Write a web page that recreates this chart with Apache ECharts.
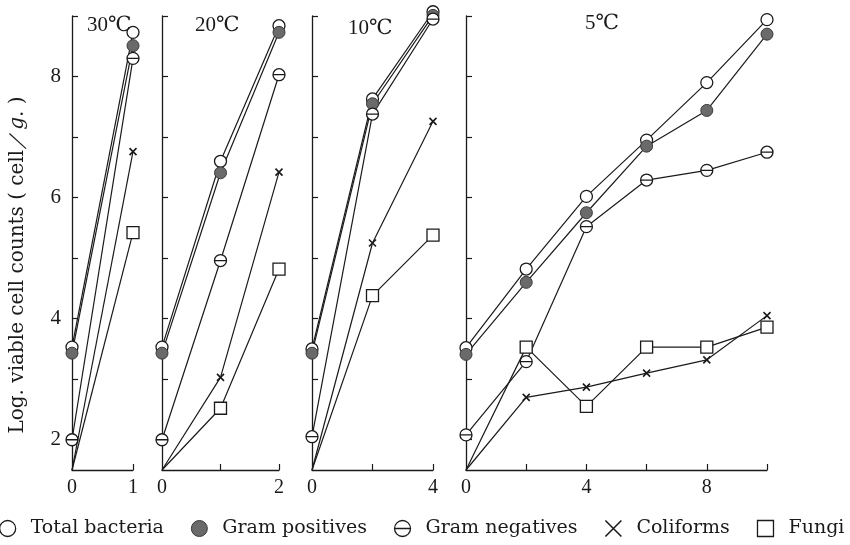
<!DOCTYPE html>
<html>
<head>
<meta charset="utf-8">
<script src="https://cdn.jsdelivr.net/npm/echarts@6/dist/echarts.min.js"></script>
<style>
  html, body { margin: 0; padding: 0; background: #fff; }
  #main { width: 850px; height: 545px; }
</style>
</head>
<body>
<div id="main"></div>
<script>
// panel data: days of storage and log counts per group
var days30 = [0, 1];
var total30 = [3.53, 8.73];
var gpos30 = [3.43, 8.51];
var gneg30 = [2.0, 8.30];
var coli30 = [1.5, 6.76];
var fungi30 = [1.5, 5.42];

var days20 = [0, 1, 2];
var total20 = [3.53, 6.60, 8.84];
var gpos20 = [3.43, 6.41, 8.73];
var gneg20 = [2.0, 4.96, 8.03];
var coli20 = [1.5, 3.03, 6.42];
var fungi20 = [1.5, 2.52, 4.82];

var days10 = [0, 2, 4];
var total10 = [3.50, 7.63, 9.07];
var gpos10 = [3.43, 7.55, 9.01];
var gneg10 = [2.05, 7.38, 8.95];
var coli10 = [1.5, 5.25, 7.26];
var fungi10 = [1.5, 4.38, 5.38];

var days5 = [0, 2, 4, 6, 8, 10];
var total5 = [3.52, 4.82, 6.02, 6.95, 7.90, 8.94];
var gpos5 = [3.41, 4.60, 5.75, 6.85, 7.44, 8.70];
var gneg5 = [2.08, 3.29, 5.52, 6.29, 6.45, 6.75];
var coli5 = [1.5, 2.70, 2.87, 3.10, 3.32, 4.05];
var fungi5 = [1.5, 3.53, 2.55, 3.53, 3.53, 3.86];

var panelTitles = ['30℃', '20℃', '10℃', '5℃'];
var panelMax = [1, 2, 4, 10];
var xTickValues = [[1], [1, 2], [2, 4], [2, 4, 6, 8, 10]];
var xLabelValues = [[0, 1], [0, 2], [0, 4], [0, 4, 8]];
var yTickValues = [2, 3, 4, 5, 6, 7, 8, 9];
var yLabelValues = [2, 4, 6, 8];
var groupNames = ['Total bacteria', 'Gram positives', 'Gram negatives', 'Coliforms', 'Fungi'];
var detectLimit = 1.5;   // below detection: plotted at axis floor without marker

var panels = [
    {days: days30, vals: [total30, gpos30, gneg30, coli30, fungi30]},
    {days: days20, vals: [total20, gpos20, gneg20, coli20, fungi20]},
    {days: days10, vals: [total10, gpos10, gneg10, coli10, fungi10]},
    {days: days5, vals: [total5, gpos5, gneg5, coli5, fungi5]}
];

var serif = '"Liberation Serif", "DejaVu Serif", "Noto Sans CJK JP", serif';
var wideSerif = '"DejaVu Serif", "Liberation Serif", serif';
var ink = '#1a1a1a';

var gnegPath = 'path://M0,10 A10,10 0 1,1 20,10 A10,10 0 1,1 0,10 Z M0,10 L20,10';
var crossPath = 'path://M0,0 L10,10 M10,0 L0,10';

var markers = [
    {symbol: 'circle', size: 12, item: {color: '#fff', borderColor: ink, borderWidth: 1.3}},
    {symbol: 'circle', size: 12, item: {color: '#6a6a6a', borderColor: '#3a3a3a', borderWidth: 1}},
    {symbol: gnegPath, size: 12, item: {color: '#fff', borderColor: ink, borderWidth: 1.3}},
    {symbol: crossPath, size: 7, item: {color: ink, borderColor: ink, borderWidth: 1.6}},
    {symbol: 'rect', size: 12, item: {color: '#fff', borderColor: ink, borderWidth: 1.3}}
];

var grids = [
    {left: 72, width: 61, top: 16, height: 454},
    {left: 162, width: 117, top: 16, height: 454},
    {left: 312, width: 121, top: 16, height: 454},
    {left: 466, width: 301, top: 16, height: 454}
];

var xAxes = [], yAxes = [], series = [], titles = [];
var titlePos = [[82, 10], [190, 10], [343, 13], [580, 8]];

panels.forEach(function (p, i) {
    xAxes.push({
        gridIndex: i,
        type: 'value',
        min: 0,
        max: panelMax[i],
        axisLine: {show: true, lineStyle: {color: ink, width: 1.3}},
        axisTick: {show: true, inside: true, length: 6, customValues: xTickValues[i], lineStyle: {color: ink, width: 1.2}},
        axisLabel: {show: true, customValues: xLabelValues[i], margin: 8, color: ink, fontFamily: serif, fontSize: 20},
        splitLine: {show: false}
    });
    yAxes.push({
        gridIndex: i,
        type: 'value',
        min: 1.5,
        max: 9,
        name: i === 0 ? 'Log. viable cell counts ( cell／{i|g}. )' : '',
        nameLocation: 'middle',
        nameGap: 44,
        nameTextStyle: {
            color: ink, fontFamily: wideSerif, fontSize: 20,
            padding: [0, 44, 0, 0],
            rich: {i: {fontStyle: 'italic', fontFamily: wideSerif, fontSize: 20, color: ink}}
        },
        axisLine: {show: true, lineStyle: {color: ink, width: 1.3}},
        axisTick: {show: true, inside: true, length: 6, customValues: yTickValues, lineStyle: {color: ink, width: 1.2}},
        axisLabel: {show: i === 0, customValues: yLabelValues, margin: 11, color: ink, fontFamily: serif, fontSize: 21},
        splitLine: {show: false}
    });
    titles.push({
        text: panelTitles[i],
        left: titlePos[i][0],
        top: titlePos[i][1],
        textStyle: {fontFamily: serif, fontWeight: 'normal', fontSize: 21, color: ink}
    });
    p.vals.forEach(function (v, k) {
        series.push({
            name: groupNames[k],
            type: 'line',
            xAxisIndex: i,
            yAxisIndex: i,
            data: p.days.map(function (d, j) {
                var pt = {value: [d, v[j]]};
                if (v[j] <= detectLimit) pt.symbol = 'none';
                return pt;
            }),
            symbol: markers[k].symbol,
            symbolSize: markers[k].size,
            symbolKeepAspect: true,
            showAllSymbol: true,
            clip: false,
            lineStyle: {color: ink, width: 1.2},
            itemStyle: markers[k].item,
            emphasis: {disabled: true},
            z: 2 + (k === 3 ? 1 : 0)
        });
    });
});

var legendData = groupNames.map(function (n, k) {
    return {name: n, icon: markers[k].symbol, itemStyle: markers[k].item};
});

var myChart = echarts.init(document.getElementById('main'));
var option = {
    backgroundColor: '#fff',
    animation: false,
    title: titles,
    grid: grids,
    xAxis: xAxes,
    yAxis: yAxes,
    legend: {
        data: legendData,
        left: -6,
        bottom: 2,
        width: 920,
        itemWidth: 16,
        itemHeight: 16,
        itemGap: 27,
        selectedMode: false,
        textStyle: {fontFamily: wideSerif, fontSize: 19, color: ink, padding: [0, 0, 0, 10]}
    },
    series: series
};
myChart.setOption(option);
</script>
</body>
</html>
